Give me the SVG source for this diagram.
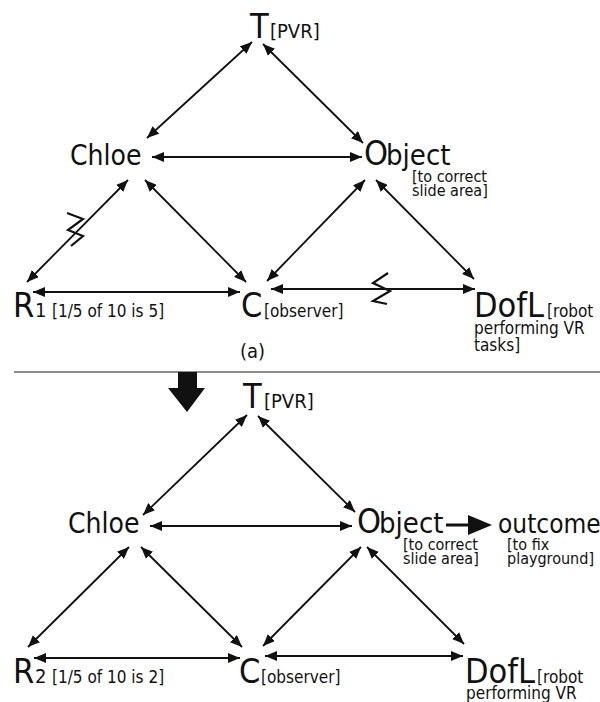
<svg xmlns="http://www.w3.org/2000/svg" width="600" height="702" viewBox="0 0 600 702">
<style>
text{font-family:"DejaVu Sans Condensed","DejaVu Sans","Liberation Sans",sans-serif;fill:#111}
.big{font-size:34px}
.mid{font-size:28px}
.ob{font-size:29px}
.sm{font-size:17px}
.xs{font-size:16px}
.con line{stroke:#111;stroke-width:1.8;marker-start:url(#ah);marker-end:url(#ah)}
.zz{fill:none;stroke:#111;stroke-width:2.2;stroke-linejoin:miter}
</style>
<defs>
<marker id="ah" viewBox="0 0 12 10" refX="12" refY="5" markerWidth="12" markerHeight="10" markerUnits="userSpaceOnUse" orient="auto-start-reverse">
<path d="M0,0 L12,5 L0,10 z" fill="#111"/>
</marker>
</defs>
<rect width="600" height="702" fill="#fff"/>

<!-- Panel (a) nodes -->
<g id="a-T"><text x="250" y="38" class="big">T</text><text x="270" y="38" font-size="20">[PVR]</text></g>
<g id="a-Chloe"><text x="70" y="165" class="mid">Chloe</text></g>
<g id="a-Object"><text x="364" y="165" class="big">O</text><text x="386" y="165" class="ob">bject</text>
<text x="412" y="182" class="xs">[to correct</text><text x="412" y="196" class="xs">slide area]</text></g>
<g id="a-R1"><text x="13" y="317" class="big">R</text><text x="35" y="317" font-size="20">1</text><text x="52" y="317" class="sm">[1/5 of 10 is 5]</text></g>
<g id="a-C"><text x="241" y="317" class="big">C</text><text x="264" y="317" class="sm">[observer]</text></g>
<g id="a-DofL"><text x="474" y="317" class="big">DofL</text><text x="547" y="317" class="sm">[robot</text>
<text x="474" y="334" class="sm">performing VR</text><text x="474" y="351" class="sm">tasks]</text></g>
<text x="240" y="358" font-size="20">(a)</text>

<line x1="14" y1="372" x2="600" y2="372" stroke="#666" stroke-width="1.5"/>
<polygon points="178,372 197,372 197,388 205,388 187,412 168,388 178,388" fill="#111"/>

<!-- Panel (b) nodes -->
<g id="b-T"><text x="243" y="408" class="big">T</text><text x="264" y="408" font-size="20">[PVR]</text></g>
<g id="b-Chloe"><text x="68" y="533" class="mid">Chloe</text></g>
<g id="b-Object"><text x="357" y="533" class="big">O</text><text x="379" y="533" class="ob">bject</text>
<text x="403" y="550" class="xs">[to correct</text><text x="403" y="564" class="xs">slide area]</text></g>
<g id="b-outcome"><text x="498" y="533" font-size="26">outcome</text>
<text x="507" y="550" class="xs">[to fix</text><text x="507" y="564" class="xs">playground]</text></g>
<g id="b-R2"><text x="13" y="683" class="big">R</text><text x="35" y="683" font-size="20">2</text><text x="52" y="683" class="sm">[1/5 of 10 is 2]</text></g>
<g id="b-C"><text x="239" y="683" class="big">C</text><text x="261" y="683" class="sm">[observer]</text></g>
<g id="b-DofL"><text x="465" y="683" class="big">DofL</text><text x="537" y="683" class="sm">[robot</text>
<text x="466" y="699" class="sm">performing VR</text></g>

<g id="connectors" class="con">
<line x1="252" y1="42" x2="147" y2="138"/>
<line x1="263" y1="44" x2="363" y2="143"/>
<line x1="152" y1="157" x2="362" y2="157"/>
<line x1="128" y1="180" x2="27" y2="282"/>
<line x1="145" y1="180" x2="246" y2="282"/>
<line x1="33" y1="292" x2="240" y2="292"/>
<line x1="365" y1="180" x2="267" y2="281"/>
<line x1="376" y1="180" x2="474" y2="279"/>
<line x1="271" y1="289" x2="475" y2="289"/>

<line x1="247" y1="415" x2="143" y2="515"/>
<line x1="258" y1="416" x2="355" y2="512"/>
<line x1="150" y1="526" x2="352" y2="526"/>
<line x1="129" y1="547" x2="28" y2="647"/>
<line x1="141" y1="547" x2="242" y2="647"/>
<line x1="34" y1="658" x2="240" y2="658"/>
<line x1="361" y1="547" x2="263" y2="646"/>
<line x1="367" y1="547" x2="464" y2="644"/>
<line x1="265" y1="656" x2="463" y2="656"/>
<polyline points="67,213 83,219 68,230 83,236 71,246" class="zz"/>
<polyline points="388,273 373,283 390,291 373,301 387,304" class="zz"/>
<line x1="446" y1="525" x2="470" y2="525" style="stroke-width:3;marker-start:none;marker-end:none"/>
<polygon points="468,515 492,525 468,535" fill="#111"/>
</g>
</svg>
